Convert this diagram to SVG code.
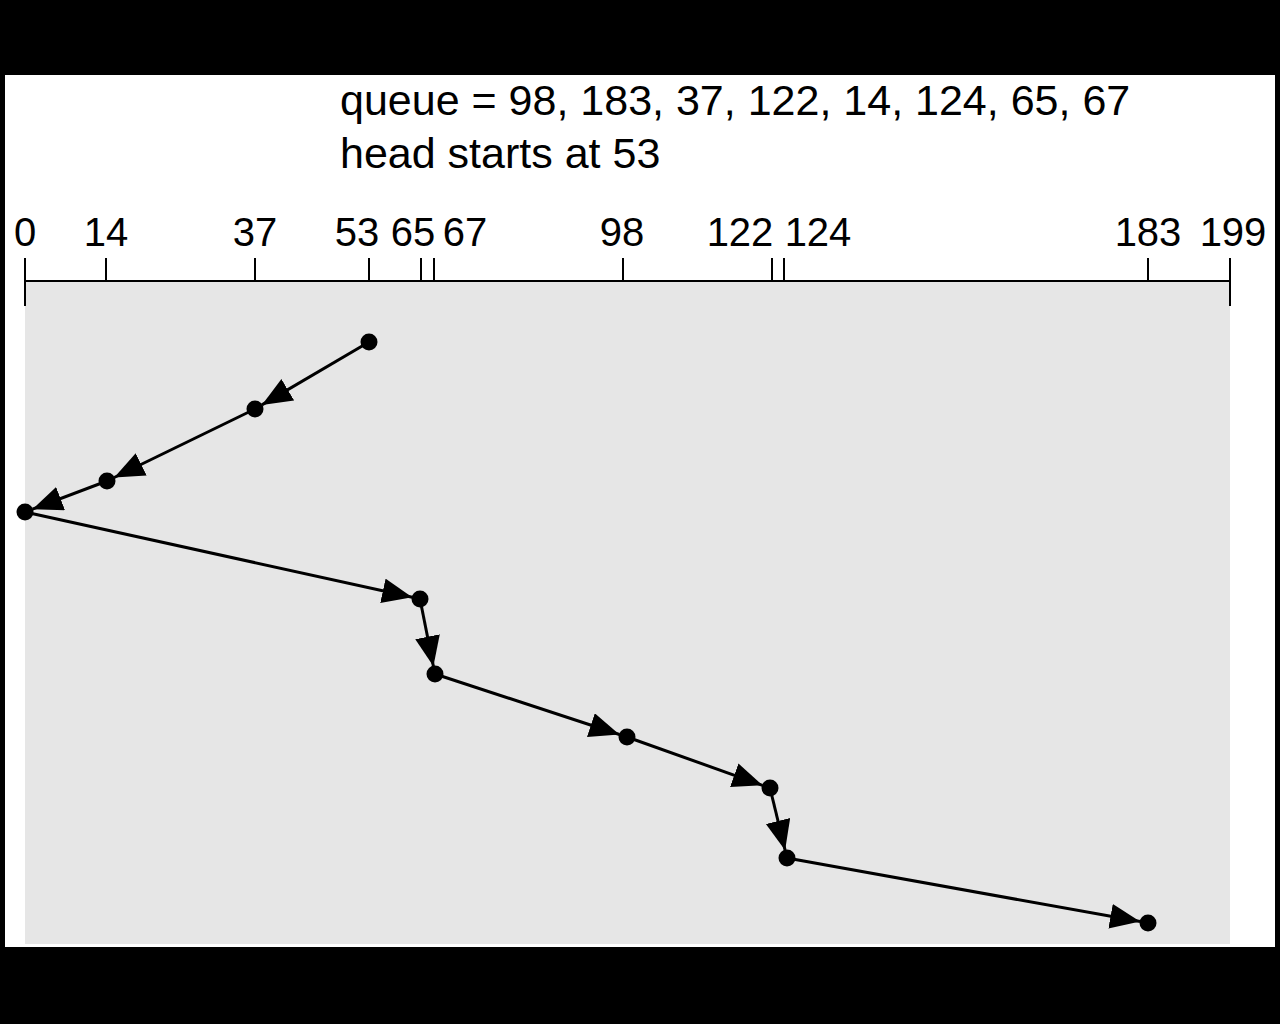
<svg xmlns="http://www.w3.org/2000/svg" width="1280" height="1024" viewBox="0 0 1280 1024">
<defs>
<style>
.lbl{font-family:"Liberation Sans",Arial,sans-serif;font-size:40px;fill:#000;text-anchor:middle}
.hdr{font-family:"Liberation Sans",Arial,sans-serif;font-size:43px;fill:#000}
.axis{stroke:#000;stroke-width:2;fill:none}
.seg{stroke:#000;stroke-width:3;fill:none;marker-end:url(#ah)}
.dot{fill:#000}
</style>
<marker id="ah" markerUnits="userSpaceOnUse" markerWidth="32" markerHeight="26" refX="30" refY="12.5" orient="auto">
<path d="M0,0 L30,12.5 L0,25 Z" fill="#000"/>
</marker>
</defs>
<rect x="0" y="0" width="1280" height="1024" fill="#000"/>
<rect x="5" y="75" width="1270" height="872" fill="#fff"/>
<rect x="25" y="282" width="1205" height="662" fill="#e6e6e6"/>
<g id="header">
<text class="hdr" x="340" y="115">queue = 98, 183, 37, 122, 14, 124, 65, 67</text>
<text class="hdr" x="340" y="168">head starts at 53</text>
</g>
<g id="axis">
<line class="axis" x1="25" y1="281" x2="1230" y2="281"/>
<line class="axis" x1="25" y1="258" x2="25" y2="306"/>
<line class="axis" x1="106" y1="258" x2="106" y2="281"/>
<line class="axis" x1="255" y1="258" x2="255" y2="281"/>
<line class="axis" x1="369" y1="258" x2="369" y2="281"/>
<line class="axis" x1="421" y1="258" x2="421" y2="281"/>
<line class="axis" x1="434" y1="258" x2="434" y2="281"/>
<line class="axis" x1="623" y1="258" x2="623" y2="281"/>
<line class="axis" x1="772" y1="258" x2="772" y2="281"/>
<line class="axis" x1="784" y1="258" x2="784" y2="281"/>
<line class="axis" x1="1148" y1="258" x2="1148" y2="281"/>
<line class="axis" x1="1230" y1="258" x2="1230" y2="306"/>
<text class="lbl" x="25" y="246">0</text>
<text class="lbl" x="106" y="246">14</text>
<text class="lbl" x="255" y="246">37</text>
<text class="lbl" x="357" y="246">53</text>
<text class="lbl" x="413" y="246">65</text>
<text class="lbl" x="465" y="246">67</text>
<text class="lbl" x="622" y="246">98</text>
<text class="lbl" x="740" y="246">122</text>
<text class="lbl" x="818" y="246">124</text>
<text class="lbl" x="1148" y="246">183</text>
<text class="lbl" x="1233" y="246">199</text>
</g>
<g id="connectors">
<line class="seg" x1="369" y1="342" x2="261.9" y2="404.9"/>
<line class="seg" x1="255" y1="409" x2="114.2" y2="477.5"/>
<line class="seg" x1="107" y1="481" x2="32.5" y2="509.2"/>
<line class="seg" x1="25" y1="512" x2="412.2" y2="597.3"/>
<line class="seg" x1="420" y1="599" x2="433.4" y2="666.2"/>
<line class="seg" x1="435" y1="674" x2="619.4" y2="734.5"/>
<line class="seg" x1="627" y1="737" x2="762.5" y2="785.3"/>
<line class="seg" x1="770" y1="788" x2="785.1" y2="850.2"/>
<line class="seg" x1="787" y1="858" x2="1140.1" y2="921.6"/>
</g>
<g id="n53"><circle class="dot" cx="369" cy="342" r="8.5"/></g>
<g id="n37"><circle class="dot" cx="255" cy="409" r="8.5"/></g>
<g id="n14"><circle class="dot" cx="107" cy="481" r="8.5"/></g>
<g id="n0"><circle class="dot" cx="25" cy="512" r="8.5"/></g>
<g id="n65"><circle class="dot" cx="420" cy="599" r="8.5"/></g>
<g id="n67"><circle class="dot" cx="435" cy="674" r="8.5"/></g>
<g id="n98"><circle class="dot" cx="627" cy="737" r="8.5"/></g>
<g id="n122"><circle class="dot" cx="770" cy="788" r="8.5"/></g>
<g id="n124"><circle class="dot" cx="787" cy="858" r="8.5"/></g>
<g id="n183"><circle class="dot" cx="1148" cy="923" r="8.5"/></g>
</svg>
